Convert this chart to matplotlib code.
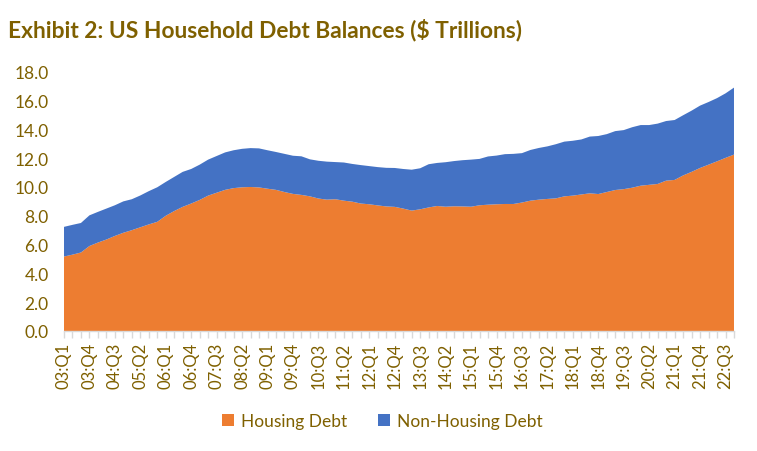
import matplotlib
matplotlib.use("Agg")
import matplotlib.pyplot as plt
import numpy as np

quarters_per_year = ["Q1", "Q2", "Q3", "Q4"]
categories = [f"{y % 100:02d}:{q}" for y in range(2003, 2023) for q in quarters_per_year]

tick_labels = ["03:Q1", "03:Q4", "04:Q3", "05:Q2", "06:Q1", "06:Q4", "07:Q3", "08:Q2",
               "09:Q1", "09:Q4", "10:Q3", "11:Q2", "12:Q1", "12:Q4", "13:Q3", "14:Q2",
               "15:Q1", "15:Q4", "16:Q3", "17:Q2", "18:Q1", "18:Q4", "19:Q3", "20:Q2",
               "21:Q1", "21:Q4", "22:Q3"]

housing_debt = [5.17, 5.30, 5.45, 5.90, 6.14, 6.35, 6.60, 6.82, 7.00, 7.20,
                7.40, 7.58, 8.00, 8.33, 8.62, 8.85, 9.10, 9.40, 9.60, 9.80,
                9.92, 9.98, 10.00, 9.97, 9.88, 9.80, 9.65, 9.52, 9.45, 9.35,
                9.20, 9.12, 9.15, 9.05, 8.98, 8.85, 8.80, 8.72, 8.65, 8.62,
                8.50, 8.36, 8.45, 8.58, 8.68, 8.63, 8.66, 8.65, 8.63, 8.73,
                8.77, 8.80, 8.82, 8.82, 8.92, 9.05, 9.12, 9.17, 9.21, 9.35,
                9.40, 9.48, 9.56, 9.51, 9.65, 9.79, 9.85, 9.95, 10.09, 10.15,
                10.21, 10.44, 10.49, 10.80, 11.05, 11.32, 11.55, 11.78, 12.02, 12.25]

non_housing_debt = [2.06, 2.07, 2.05, 2.13, 2.13, 2.15, 2.13, 2.18, 2.15, 2.21,
                    2.31, 2.40, 2.35, 2.37, 2.43, 2.40, 2.45, 2.50, 2.55, 2.60,
                    2.63, 2.67, 2.70, 2.71, 2.67, 2.63, 2.65, 2.65, 2.68, 2.57,
                    2.62, 2.64, 2.58, 2.65, 2.62, 2.67, 2.65, 2.66, 2.68, 2.70,
                    2.75, 2.84, 2.85, 3.00, 2.99, 3.09, 3.14, 3.21, 3.27, 3.22,
                    3.35, 3.38, 3.46, 3.48, 3.43, 3.52, 3.59, 3.65, 3.76, 3.80,
                    3.81, 3.82, 3.94, 4.03, 4.02, 4.09, 4.10, 4.20, 4.21, 4.15,
                    4.19, 4.14, 4.16, 4.18, 4.25, 4.33, 4.35, 4.39, 4.48, 4.65]

series_names = ["Housing Debt", "Non-Housing Debt"]
colors = ["#ED7D31", "#4472C4"]
text_color = "#7F6000"
font = "Lato"

fig = plt.figure(figsize=(7.57, 4.52), dpi=100)
ax = fig.add_axes([0.0845, 0.2655, 0.8851, 0.5735])

x = np.arange(len(categories))
ax.stackplot(x, housing_debt, non_housing_debt, colors=colors, labels=series_names,
             linewidth=0)

ax.set_xlim(0, len(categories) - 1)
ax.set_ylim(0, 18)
ax.set_yticks(np.arange(0, 18.1, 2))
ax.set_yticklabels([f"{v:.1f}" for v in np.arange(0, 18.1, 2)],
                   fontsize=12.5, color=text_color, family=font)
ax.tick_params(axis="y", length=0, pad=11)

major_pos = [categories.index(t) for t in tick_labels]
ax.set_xticks(major_pos)
ax.set_xticklabels(tick_labels, rotation=90, fontsize=12, color=text_color, family=font)
ax.set_xticks(x, minor=True)
ax.tick_params(axis="x", which="both", length=5, width=1, color="#D9D9D9", pad=3)

for s in ["top", "right", "left"]:
    ax.spines[s].set_visible(False)
ax.spines["bottom"].set_color("#D9D9D9")
ax.spines["bottom"].set_linewidth(1)

fig.text(0.011, 0.934, "Exhibit 2: US Household Debt Balances ($ Trillions)",
         fontsize=16.4, fontweight="bold", color=text_color, family=font,
         ha="left", va="center")

leg = fig.legend(loc="center", bbox_to_anchor=(0.505, 0.066), ncol=2, frameon=False,
                 prop={"family": font, "size": 12.5}, handlelength=0.7, handleheight=0.7,
                 columnspacing=1.8, handletextpad=0.4)
for t in leg.get_texts():
    t.set_color(text_color)

fig.savefig("out.png", dpi=100)
